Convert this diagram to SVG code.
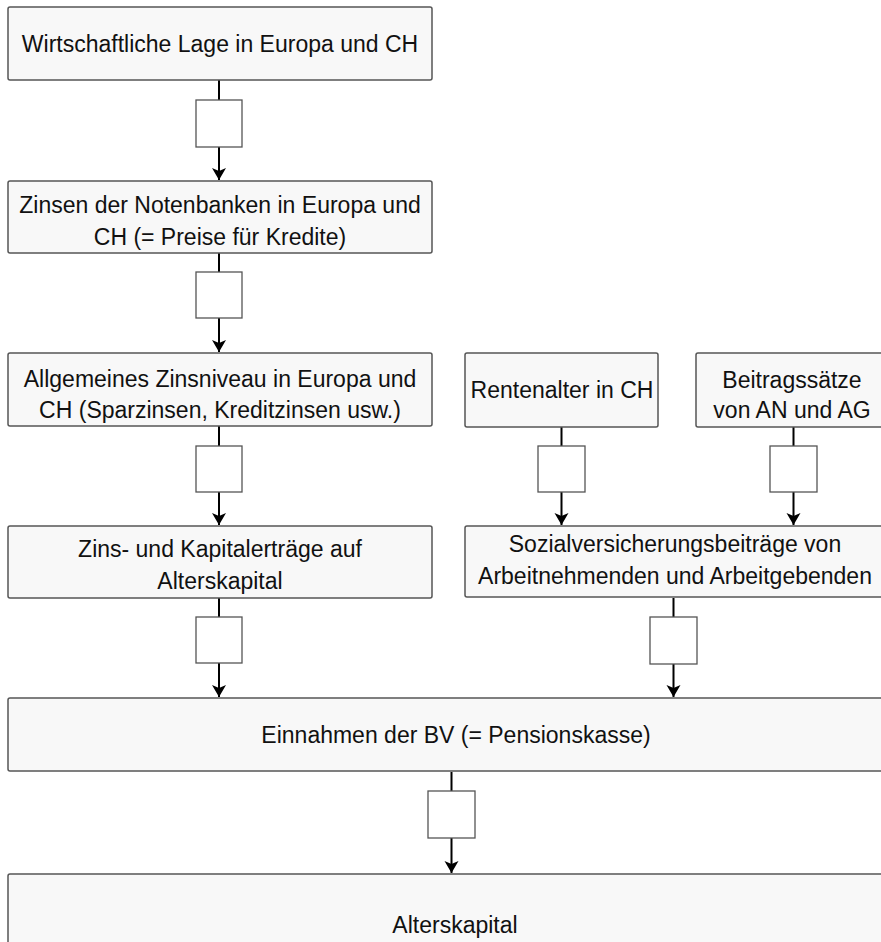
<svg xmlns="http://www.w3.org/2000/svg" width="881" height="942" viewBox="0 0 881 942">
<defs>
<style>
.node{fill:#f8f8f8;stroke:#555;stroke-width:1.5}
.lbl{fill:#fff;stroke:#555;stroke-width:1.3}
.t{font-family:"Liberation Sans",Arial,sans-serif;font-size:23px;fill:#111;text-anchor:middle}
.c{stroke:#000;stroke-width:2;fill:none}
</style>
<marker id="arr" viewBox="0 0 12 16" refX="12" refY="8" markerWidth="12" markerHeight="16" markerUnits="userSpaceOnUse" orient="auto">
<path d="M0,1 L12,8 L0,15 L3,8 Z" fill="#000"/>
</marker>
</defs>
<rect width="881" height="942" fill="#fff"/>
<g id="connectors">
<path class="c" d="M219,80 V100 M219,147 V180" marker-end="url(#arr)"/>
<path class="c" d="M219,253 V272 M219,318 V352" marker-end="url(#arr)"/>
<path class="c" d="M219,426 V446 M219,492 V525" marker-end="url(#arr)"/>
<path class="c" d="M219,598 V617 M219,663 V697" marker-end="url(#arr)"/>
<path class="c" d="M561.5,427 V446 M561.5,492 V525" marker-end="url(#arr)"/>
<path class="c" d="M793.5,427 V446 M793.5,492 V525" marker-end="url(#arr)"/>
<path class="c" d="M673.5,598 V617 M673.5,664 V697" marker-end="url(#arr)"/>
<path class="c" d="M451.5,772 V791 M451.5,838 V873" marker-end="url(#arr)"/>
<rect class="lbl" x="196" y="100" width="46" height="47"/>
<rect class="lbl" x="196" y="272" width="46" height="46"/>
<rect class="lbl" x="196" y="446" width="46" height="46"/>
<rect class="lbl" x="196" y="617" width="46" height="46"/>
<rect class="lbl" x="538" y="446" width="47" height="46"/>
<rect class="lbl" x="770" y="446" width="47" height="46"/>
<rect class="lbl" x="650" y="617" width="47" height="47"/>
<rect class="lbl" x="428" y="791" width="47" height="47"/>
</g>
<g id="n1"><rect class="node" x="8" y="7" width="424" height="73" rx="2"/><text class="t" x="220" y="52">Wirtschaftliche Lage in Europa und CH</text></g>
<g id="n2"><rect class="node" x="8" y="181" width="424" height="72" rx="2"/><text class="t" x="220" y="213">Zinsen der Notenbanken in Europa und</text><text class="t" x="220" y="245">CH (= Preise für Kredite)</text></g>
<g id="n3"><rect class="node" x="8" y="353" width="424" height="73" rx="2"/><text class="t" x="220" y="387">Allgemeines Zinsniveau in Europa und</text><text class="t" x="220" y="418">CH (Sparzinsen, Kreditzinsen usw.)</text></g>
<g id="n4"><rect class="node" x="8" y="526" width="424" height="72" rx="2"/><text class="t" x="220" y="557">Zins- und Kapitalerträge auf</text><text class="t" x="220" y="589">Alterskapital</text></g>
<g id="n5"><rect class="node" x="465" y="353" width="193" height="74" rx="2"/><text class="t" x="562" y="398">Rentenalter in CH</text></g>
<g id="n6"><rect class="node" x="696" y="353" width="192" height="74" rx="2"/><text class="t" x="792" y="388">Beitragssätze</text><text class="t" x="792" y="418">von AN und AG</text></g>
<g id="n7"><rect class="node" x="465" y="526" width="420" height="71" rx="2"/><text class="t" x="675" y="552">Sozialversicherungsbeiträge von</text><text class="t" x="675" y="584">Arbeitnehmenden und Arbeitgebenden</text></g>
<g id="n8"><rect class="node" x="8" y="698" width="896" height="73" rx="2"/><text class="t" x="456" y="743">Einnahmen der BV (= Pensionskasse)</text></g>
<g id="n9"><rect class="node" x="8" y="874" width="896" height="100" rx="2"/><text class="t" x="455" y="933">Alterskapital</text></g>
</svg>
